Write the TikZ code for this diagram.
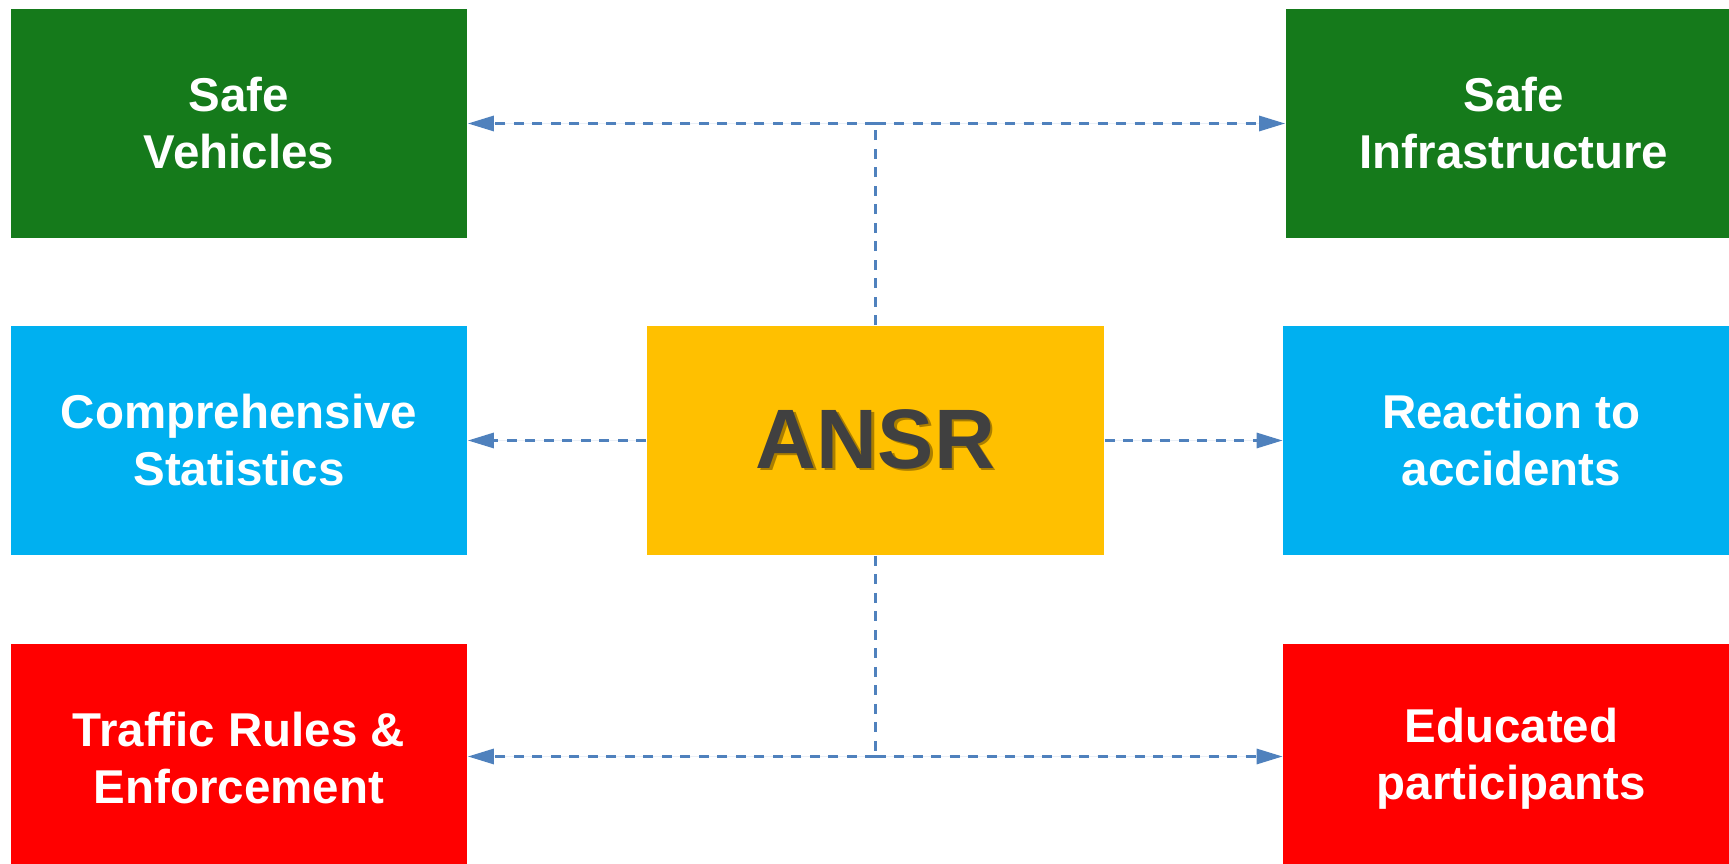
\documentclass[tikz,border=0pt]{standalone}
\usepackage{fontspec}
\setmainfont{Liberation Sans}
\usetikzlibrary{arrows.meta}
\definecolor{safegreen}{RGB}{21,122,27}
\definecolor{statblue}{RGB}{0,176,240}
\definecolor{rulered}{RGB}{255,0,0}
\definecolor{ansryellow}{RGB}{255,192,0}
\definecolor{linkblue}{RGB}{79,129,189}
\definecolor{ansrgray}{RGB}{64,64,64}
\definecolor{ansrshadow}{RGB}{170,126,0}
\begin{document}
\begin{tikzpicture}[x=0.01cm,y=-0.01cm,
    pillar/.style={minimum width=4.56cm,minimum height=2.29cm,inner sep=0pt,align=center,text=white,
      font=\fontsize{13.5}{16.2}\selectfont\bfseries},
    link/.style={draw=linkblue,line width=0.03cm,dash pattern=on 0.1cm off 0.085cm},
    tip/.style={-{Triangle[length=0.26cm,width=0.15cm]},fill=linkblue}]
  \useasboundingbox (0,0) rectangle (1729,864);
  % the six pillars
  \node[pillar,fill=safegreen] (vehicles) at (239,123.5) {Safe\\Vehicles};
  \node[pillar,fill=safegreen] (infra) at (1514,123.5) {Safe\\Infrastructure};
  \node[pillar,fill=statblue] (stats) at (239,440.5) {Comprehensive\\Statistics};
  \node[pillar,fill=statblue] (reaction) at (1511.5,440.5) {Reaction to\\accidents};
  \node[pillar,fill=rulered] (rules) at (239,758.5) {Traffic Rules \&\\Enforcement};
  \node[pillar,fill=rulered] (educated) at (1511.5,758.5) {Educated\\participants};
  % centre
  \node[minimum width=4.57cm,minimum height=2.29cm,inner sep=0pt,fill=ansryellow,text=ansrgray,
    font=\fontsize{24}{28}\selectfont\bfseries] (ansr) at (875.5,440.5)
    {\makebox[0pt][l]{\raisebox{-0.025cm}{\hspace{0.025cm}\color{ansrshadow}ANSR}}ANSR};
  % links
  \coordinate (top) at (ansr.north |- vehicles.east);
  \coordinate (bottom) at ([yshift=0.02cm]ansr.south |- rules.east);
  \draw[link] (ansr.north) -- (top);
  \draw[link,tip] (top) -- (vehicles.east);
  \draw[link,tip] (top) -- (infra.west);
  \draw[link,tip] (ansr.west) -- (stats.east);
  \draw[link,tip] (ansr.east) -- (reaction.west);
  \draw[link] (ansr.south) -- (bottom);
  \draw[link,tip] (bottom) -- (rules.east |- bottom);
  \draw[link,tip] (bottom) -- (educated.west |- bottom);
\end{tikzpicture}
\end{document}
